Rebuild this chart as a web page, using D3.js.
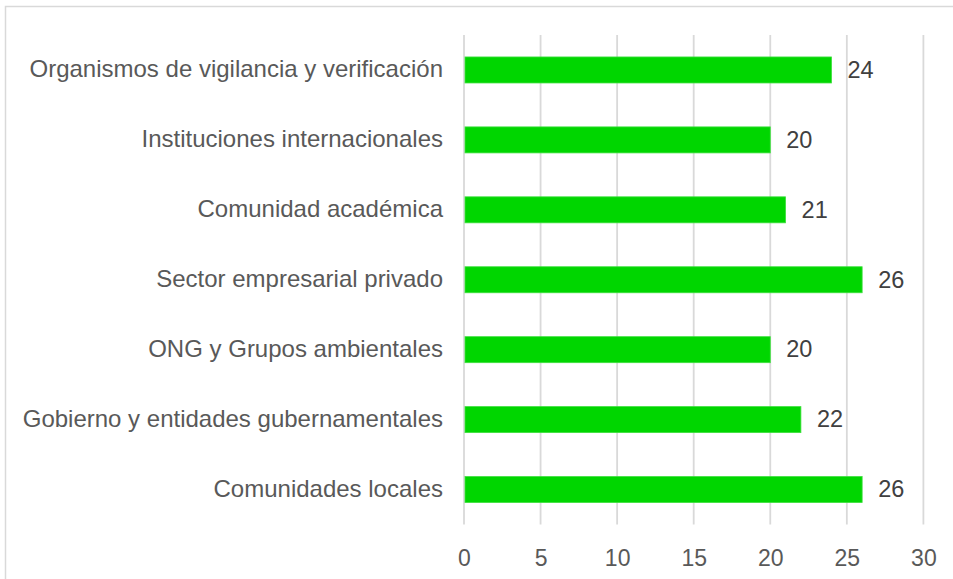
<!DOCTYPE html>
<html>
  <head>
    <meta charset='utf-8'>
    <style>
      body { margin: 0; background: #fff; }
      text { font-family: "Liberation Sans", Arial, sans-serif; }
    </style>
  </head>
  <body>
    <script src="https://cdn.jsdelivr.net/npm/d3@7"></script>
    <script type="text/javascript">

      // --------------------------- data --------------------------
      var categories = [
        "Organismos de vigilancia y verificación",
        "Instituciones internacionales",
        "Comunidad académica",
        "Sector empresarial privado",
        "ONG y Grupos ambientales",
        "Gobierno y entidades gubernamentales",
        "Comunidades locales"
      ];
      var values = [24, 20, 21, 26, 20, 22, 26];
      var xTicks = [0, 5, 10, 15, 20, 25, 30];

      // --------------------------- layout --------------------------
      var W = 953, H = 579;
      var margin = {top: 35, left: 464};
      var plotW = 923.4 - margin.left,
          plotH = 524.5 - margin.top;

      var svg = d3.select("body").append("svg")
        .attr("width", W)
        .attr("height", H);

      // chart border
      svg.append("rect")
        .attr("x", 5.5).attr("y", 6.5)
        .attr("width", W + 10).attr("height", H + 10)
        .attr("fill", "none")
        .attr("stroke", "#d9d9d9")
        .attr("stroke-width", 1.5);

      var x = d3.scaleLinear().domain([0, 30]).range([0, plotW]);
      var y = d3.scaleBand().domain(categories).range([0, plotH]).paddingInner(0.628).paddingOuter(0.314);

      var g = svg.append("g")
        .attr("transform", "translate(" + margin.left + "," + margin.top + ")");

      // gridlines
      g.selectAll(".grid")
        .data(xTicks).enter()
        .append("line")
        .attr("x1", function(d){ return x(d); })
        .attr("x2", function(d){ return x(d); })
        .attr("y1", 0)
        .attr("y2", plotH)
        .attr("stroke", "#d9d9d9")
        .attr("stroke-width", 1.8);

      // bars
      g.selectAll(".bar")
        .data(values).enter()
        .append("rect")
        .attr("x", x(0) + 1)
        .attr("y", function(d, i){ return y(categories[i]); })
        .attr("width", function(d){ return x(d) - x(0) - 1; })
        .attr("height", y.bandwidth())
        .attr("fill", "#00d600")
        .attr("stroke", "#3ee03e")
        .attr("stroke-width", 0.8);

      // value labels
      g.selectAll(".val")
        .data(values).enter()
        .append("text")
        .attr("x", function(d){ return x(d) + 16; })
        .attr("y", function(d, i){ return y(categories[i]) + y.bandwidth() / 2; })
        .attr("dy", "0.33em")
        .attr("font-size", "23.5px")
        .attr("fill", "#404040")
        .text(function(d){ return d; });

      // category labels
      var yAxis = d3.axisLeft(y).tickSize(0).tickPadding(21);
      var ya = g.append("g").call(yAxis);
      ya.select(".domain").remove();
      ya.selectAll("text")
        .attr("dy", "0.31em")
        .attr("font-size", "24px")
        .attr("fill", "#595959")
        .style("font-family", "'Liberation Sans', Arial, sans-serif");

      // x axis labels
      var xAxis = d3.axisBottom(x).tickValues(xTicks).tickSize(0).tickPadding(25);
      var xa = g.append("g")
        .attr("transform", "translate(0," + plotH + ")")
        .call(xAxis);
      xa.select(".domain").remove();
      xa.selectAll("text")
        .attr("font-size", "23px")
        .attr("fill", "#595959")
        .style("font-family", "'Liberation Sans', Arial, sans-serif");

    </script>
  </body>
</html>
